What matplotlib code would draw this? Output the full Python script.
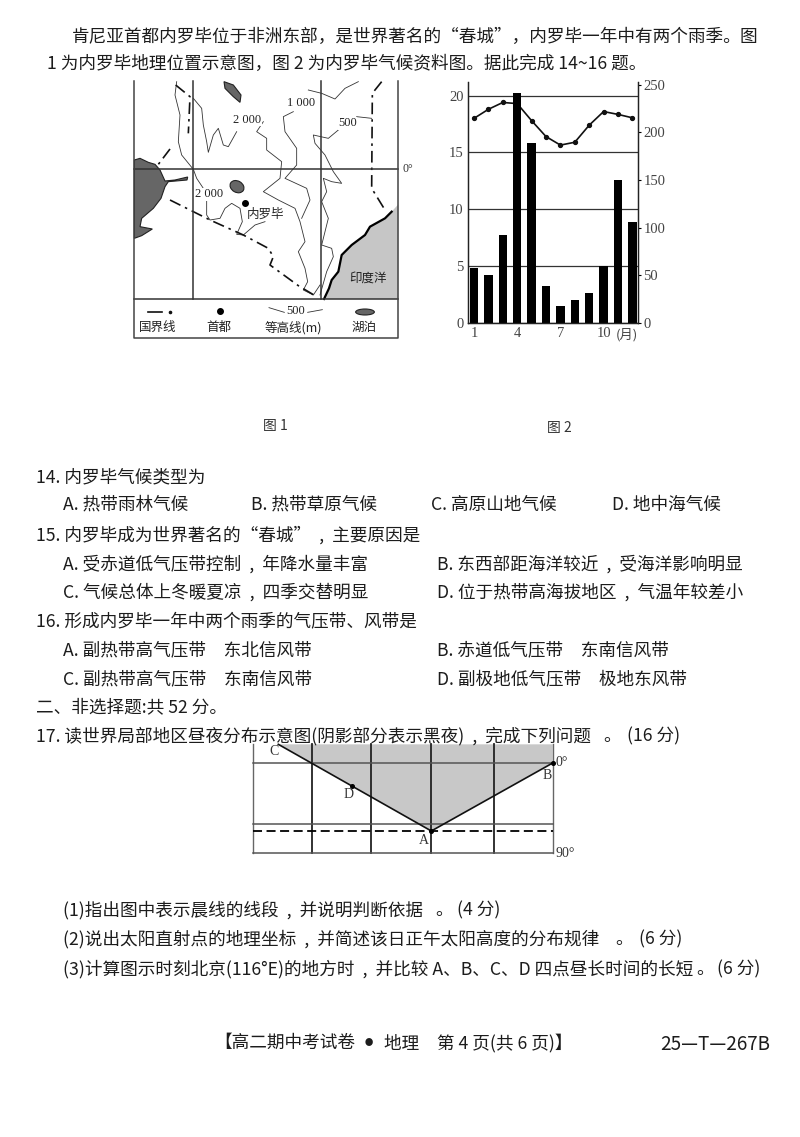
import matplotlib
matplotlib.use("Agg")
import matplotlib.pyplot as plt
from matplotlib.patches import Ellipse, Polygon

plt.rcParams["font.family"] = ["Noto Sans CJK SC", "DejaVu Sans"]

W, H = 800, 1137
INK = "#1c1c1c"
SERIF = ["Liberation Serif", "Noto Sans CJK SC"]

# ---------------------------------------------------------------------------
# Climate data (figure 2)
# ---------------------------------------------------------------------------
months = list(range(1, 13))
month_ticks = [1, 4, 7, 10]
temp_c = [18.0, 18.8, 19.4, 19.3, 17.8, 16.4, 15.65, 15.9, 17.4, 18.6, 18.35, 18.05]
rain_mm = [58, 50, 92, 241, 189, 38.5, 17.5, 24.5, 31, 60, 150, 106]
temp_ticks = [0, 5, 10, 15, 20]
rain_ticks = [0, 50, 100, 150, 200, 250]

# ---------------------------------------------------------------------------
# Map data (figure 1), traced in map units
# ---------------------------------------------------------------------------
lake_sea = [(28, 255), (45, 250), (70, 262), (90, 268), (105, 285), (120, 318), (150, 315),
            (188, 306), (186, 315), (130, 320), (120, 335), (108, 370), (85, 400),
            (50, 430), (45, 455), (82, 462), (50, 482), (28, 490)]
ocean = [(597, 672), (612, 640), (620, 615), (640, 590), (650, 540), (680, 510), (720, 480),
         (735, 455), (780, 430), (800, 410), (820, 388), (820, 672)]
lake_north = [(297, 20), (325, 30), (348, 60), (345, 82), (325, 65), (300, 40)]
contours = [
    [(155, 20), (150, 60), (165, 120), (160, 200), (170, 240), (205, 283), (215, 310), (235, 340)],
    [(205, 70), (230, 100), (235, 150), (245, 200), (250, 232), (265, 180), (280, 160),
     (295, 210), (310, 215), (335, 170)],
    [(245, 375), (245, 420), (255, 435), (285, 430), (300, 400), (320, 385), (345, 400),
     (352, 440), (335, 478), (355, 480), (390, 450), (420, 440)],
    [(415, 140), (395, 170), (425, 190), (425, 225), (470, 260), (465, 310), (415, 350),
     (460, 375), (510, 400), (525, 440), (540, 500), (520, 530), (540, 580), (548, 620),
     (535, 645), (565, 660), (585, 630)],
    [(505, 110), (475, 125), (480, 170), (515, 220), (515, 270), (480, 310), (545, 340),
     (555, 375), (530, 430)],
    [(550, 45), (590, 55), (630, 72), (660, 40), (700, 20)],
    [(640, 165), (610, 190), (565, 180), (570, 205), (600, 240), (625, 290), (650, 325),
     (620, 320), (595, 310), (605, 350), (590, 380), (610, 430), (590, 510), (620, 520),
     (625, 545), (605, 590), (585, 660)],
    [(695, 125), (740, 130)],
]
borders = [
    [(152, 30), (195, 65), (190, 175)],
    [(135, 222), (100, 268)],
    [(135, 375), (255, 435), (355, 480), (430, 520), (445, 545), (435, 570), (520, 632), (570, 662)],
    [(770, 20), (742, 55), (740, 340), (780, 405)],
]
map_labels = [("2 000", 367, 135), ("1 000", 527, 85), ("500", 668, 145), ("2 000", 252, 358),
              ("内罗毕", 423, 418)]
legend_labels = [("国界线", 98, 757), ("首都", 281, 757), ("等高线(m)", 506, 757), ("湖泊", 717, 757)]

# ---------------------------------------------------------------------------
# Page text
# ---------------------------------------------------------------------------
page_text = [
    ("肯尼亚首都内罗毕位于非洲东部，是世界著名的“春城”，内罗毕一年中有两个雨季。", 72, 37),
    ("图", 740, 37),
    ("1 为内罗毕地理位置示意图，图 2 为内罗毕气候资料图。据此完成 14~16 题。", 47, 64),
    ("14. 内罗毕气候类型为", 36, 477),
    ("A. 热带雨林气候", 63, 505), ("B. 热带草原气候", 251, 505),
    ("C. 高原山地气候", 431, 505), ("D. 地中海气候", 612, 505),
    ("15. 内罗毕成为世界著名的“春城”  ,  主要原因是", 36, 535),
    ("A. 受赤道低气压带控制  ,  年降水量丰富", 63, 564),
    ("B. 东西部距海洋较近  ,  受海洋影响明显", 437, 564),
    ("C. 气候总体上冬暖夏凉  ,  四季交替明显", 63, 592),
    ("D. 位于热带高海拔地区  ,  气温年较差小", 437, 592),
    ("16. 形成内罗毕一年中两个雨季的气压带、风带是", 36, 621),
    ("A. 副热带高气压带　东北信风带", 63, 650), ("B. 赤道低气压带　东南信风带", 437, 650),
    ("C. 副热带高气压带　东南信风带", 63, 679), ("D. 副极地低气压带　极地东风带", 437, 679),
    ("二、非选择题:共 52 分。", 36, 707),
    ("17. 读世界局部地区昼夜分布示意图(阴影部分表示黑夜)  ,  完成下列问题", 36, 736),
    ("。", 603, 736), ("(16 分)", 627, 736),
    ("(1)指出图中表示晨线的线段  ,  并说明判断依据", 63, 910),
    ("。", 435, 910), ("(4 分)", 457, 910),
    ("(2)说出太阳直射点的地理坐标  ,  并简述该日正午太阳高度的分布规律", 63, 939),
    ("。", 615, 939), ("(6 分)", 639, 939),
    ("(3)计算图示时刻北京(116°E)的地方时  ,  并比较 A、B、C、D 四点昼长时间的长短", 63, 969),
    ("。", 696, 969), ("(6 分)", 717, 969),
    ("【高二期中考试卷", 214, 1043),
    ("地理　第 4 页(共 6 页)】", 384, 1043),
]
page_bullet = ("●", 369, 1043)
page_code = ("25—T—267B", 660, 1044)
captions = [("图 1", 275, 426), ("图 2", 559, 428)]

# ---------------------------------------------------------------------------
# Day/night sketch data (question 17)
# ---------------------------------------------------------------------------
night_area = [(115, 28), (574, 288), (938, 84), (938, 28)]
terminator_x = [115, 574, 938]
terminator_y = [28, 288, 84]
sketch_verticals = [216, 393, 574, 763]
sketch_edges = [40, 938]
sketch_horizontals = [84, 268, 354]
sketch_points = [(335, 152), (574, 288), (938, 84)]
sketch_labels = [("C", 102, 50), ("D", 325, 178), ("A", 552, 316), ("B", 920, 122),
                 ("0°", 966, 82), ("90°", 977, 355)]


def px_axes(fig, left, top, width, height):
    return fig.add_axes([left / W, 1 - (top + height) / H, width / W, height / H])


def draw_climate(fig):
    ax = px_axes(fig, 468, 82, 170, 241)
    ax2 = ax.twinx()
    ax.set_xlim(0.583, 12.39)
    ax.set_ylim(0, 21.2)
    ax2.set_ylim(0, 253)

    ax.grid(axis="y", color="#333333", linewidth=0.9)
    ax.set_axisbelow(True)
    ax.plot(months, temp_c, color="#111111", linewidth=1.2, marker="o", markersize=2.8)
    ax2.bar(months, rain_mm, width=0.58, color="black")

    ax.set_xticks(month_ticks)
    ax.set_yticks(temp_ticks)
    ax2.set_yticks(rain_ticks)
    ax.tick_params(axis="both", length=0, labelsize=10.5, labelcolor="#444444", pad=3)
    ax2.tick_params(axis="y", length=2, labelsize=10.5, labelcolor="#444444", pad=2)
    for label in ax.get_xticklabels() + ax.get_yticklabels() + ax2.get_yticklabels():
        label.set_family(SERIF)
    for a in (ax, ax2):
        a.spines["top"].set_visible(False)
        for s in a.spines.values():
            s.set_linewidth(0.9)
            s.set_color("#222222")
    ax.text(11.6, -1.05, "(月)", ha="center", va="center", fontsize=9.5, color="#444444")


def draw_map(fig):
    ax = px_axes(fig, 125, 75, 300, 280)
    ax.set_xlim(0, 900)
    ax.set_ylim(840, 0)
    ax.axis("off")

    ax.add_patch(Polygon(lake_sea, closed=True, fc="#666666", ec="#222222", lw=0.8))
    ax.add_patch(Polygon(ocean, closed=True, fc="#c6c6c6", ec="none"))
    ax.plot(*zip(*ocean[:-2]), color="black", lw=1.6)
    ax.add_patch(Polygon(lake_north, closed=True, fc="#666666", ec="#222222", lw=0.8))
    ax.add_patch(Ellipse((336, 335), 44, 34, angle=30, fc="#666666", ec="#222222", lw=0.8))

    for line in contours:
        ax.plot(*zip(*line), color="#333333", lw=0.6)
    for line in borders:
        ax.plot(*zip(*line), color="#111111", lw=1.2, linestyle=(0, (7, 3, 1.5, 3)))

    ax.plot([205, 205], [18, 672], color="#333333", lw=1.1)
    ax.plot([587, 587], [18, 672], color="#333333", lw=1.1)
    ax.plot([28, 820], [283, 283], color="#333333", lw=1.1)
    ax.plot([28, 820], [672, 672], color="#333333", lw=1.1)
    ax.plot([28, 28, 820, 820], [18, 790, 790, 18], color="#444444", lw=1.1)
    ax.plot([360], [385], "o", color="black", ms=4)

    for text, x, y in map_labels:
        ax.text(x, y, text, ha="center", va="center", fontsize=9, color="#222222",
                family=SERIF if text[0].isdigit() else None,
                bbox=dict(fc="white", ec="none", pad=0.3))
    ax.text(730, 610, "印度洋", ha="center", va="center", fontsize=9, style="italic", color="#222222")
    ax.text(848, 283, "0°", ha="center", va="center", fontsize=8.5, color="#333333", family=SERIF)

    # legend row
    ax.plot([70, 110], [710, 710], color="#111111", lw=1.2)
    ax.plot([135], [710], "o", color="#111111", ms=1.6)
    ax.plot([285], [708], "o", color="black", ms=4)
    ax.plot([432, 478], [698, 712], color="#333333", lw=0.6)
    ax.plot([548, 592], [712, 704], color="#333333", lw=0.6)
    ax.text(512, 709, "500", ha="center", va="center", fontsize=9, color="#222222", family=SERIF)
    ax.add_patch(Ellipse((720, 711), 56, 18, fc="#666666", ec="#222222", lw=0.8))
    for text, x, y in legend_labels:
        ax.text(x, y, text, ha="center", va="center", fontsize=9, color="#222222")


def draw_sketch(fig):
    ax = px_axes(fig, 240, 735, 340, 135)
    ax.set_xlim(0, 1020)
    ax.set_ylim(405, 0)
    ax.axis("off")

    ax.add_patch(Polygon(night_area, closed=True, fc="#c8c8c8", ec="none"))
    for x in sketch_verticals:
        ax.plot([x, x], [28, 354], color="#222222", lw=1.3)
    for x in sketch_edges:
        ax.plot([x, x], [28, 354], color="#666666", lw=1.0)
    for y in sketch_horizontals:
        ax.plot([40, 938], [y, y], color="#555555", lw=1.1)
    ax.plot([40, 938], [288, 288], color="black", lw=1.3, linestyle=(0, (5, 2.5)))
    ax.plot(terminator_x, terminator_y, color="#111111", lw=1.2)
    ax.plot(*zip(*sketch_points), "o", color="black", ms=2.6)
    for text, x, y in sketch_labels:
        ax.text(x, y, text, ha="center", va="center", fontsize=10, color="#333333", family=SERIF)


fig = plt.figure(figsize=(W / 100, H / 100), dpi=100, facecolor="white")
draw_map(fig)
draw_climate(fig)
draw_sketch(fig)

for text, x, y in page_text:
    fig.text(x / W, 1 - y / H, text, ha="left", va="center", fontsize=12.7, color=INK)
fig.text(page_bullet[1] / W, 1 - page_bullet[2] / H, page_bullet[0], ha="center", va="center",
         fontsize=6, color=INK)
fig.text(page_code[1] / W, 1 - page_code[2] / H, page_code[0], ha="left", va="center",
         fontsize=13.6, color=INK)
for text, x, y in captions:
    fig.text(x / W, 1 - y / H, text, ha="center", va="center", fontsize=10, color="#333333")

fig.savefig("out.png", dpi=100, facecolor="white")
